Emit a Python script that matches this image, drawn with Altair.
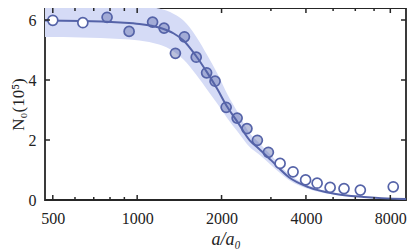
import altair as alt
import pandas as pd

# ---- data ----
pt_x = [500, 640, 781, 936, 1135, 1247, 1369, 1474, 1624, 1769, 1896, 2077,
        2273, 2464, 2684, 2938, 3235, 3598, 3989, 4385, 4880, 5469, 6254, 8195]
pt_y = [5.99, 5.91, 6.09, 5.62, 5.93, 5.73, 4.89, 5.44, 4.76, 4.24, 3.96, 3.09,
        2.73, 2.38, 1.99, 1.59, 1.22, 0.94, 0.67, 0.56, 0.42, 0.38, 0.33, 0.44]
pt_kind = ["open", "open"] + ["filled"] * 14 + ["open"] * 8

fit_x = [469, 630, 870, 1018, 1197, 1351, 1463, 1622, 1785, 1936, 2100, 2273,
         2525, 2712, 3008, 3477, 4082, 5046, 6433, 9100]
fit_y = [5.98, 5.97, 5.92, 5.87, 5.75, 5.55, 5.32, 4.80, 4.22, 3.68, 3.09, 2.62,
         1.98, 1.72, 1.32, 0.76, 0.43, 0.21, 0.10, 0.03]
band_lo = [5.43, 5.42, 5.37, 5.32, 5.18, 4.95, 4.68, 4.18, 3.65, 3.20, 2.72, 2.30,
           1.76, 1.53, 1.16, 0.67, 0.37, 0.18, 0.08, 0.02]
band_hi = [6.55, 6.54, 6.50, 6.46, 6.38, 6.20, 5.98, 5.45, 4.80, 4.20, 3.52, 2.96,
           2.22, 1.92, 1.48, 0.86, 0.49, 0.24, 0.12, 0.04]

x_major = [500, 1000, 2000, 4000, 8000]
x_minor = [600, 700, 800, 900, 3000, 5000, 6000, 7000]
y_major = [2, 4, 6]

W, H = 361, 192
LINE = "#5563a8"
FONT = "Liberation Serif"

xs = alt.Scale(type="log", domain=[469, 9100], nice=False)
ys = alt.Scale(domain=[0, 6.4], nice=False, zero=False)

pts = pd.DataFrame({"x": pt_x, "y": pt_y, "kind": pt_kind})
fit = pd.DataFrame({"x": fit_x, "y": fit_y, "lo": band_lo, "hi": band_hi})
xmaj = pd.DataFrame({"x": x_major})
xmin = pd.DataFrame({"x": x_minor})
ymaj = pd.DataFrame({"y": y_major})

band = alt.Chart(fit).mark_area(color="#d5dbf6", interpolate="monotone", clip=True).encode(
    x=alt.X("x:Q", scale=xs, axis=alt.Axis(
        values=x_major, format="d", ticks=False, domain=False, grid=False,
        labelPadding=10, title="a/a₀", titleFontStyle="italic", titleFontSize=18,
        titlePadding=4, labelFlush=False)),
    y=alt.Y("lo:Q", scale=ys, axis=alt.Axis(
        values=[0, 2, 4, 6], ticks=False, domain=False, grid=False,
        labelPadding=9, title="N₀(10⁵)", titleFontSize=17, titlePadding=1)),
    y2="hi:Q",
)

curve = alt.Chart(fit).mark_line(color=LINE, strokeWidth=2, interpolate="monotone", clip=True).encode(
    x=alt.X("x:Q", scale=xs),
    y=alt.Y("y:Q", scale=ys),
)

open_pts = alt.Chart(pts).transform_filter(alt.datum.kind == "open").mark_point(
    shape="circle", filled=False, fill="white", stroke=LINE, strokeWidth=1.7, size=100, opacity=1
).encode(
    x=alt.X("x:Q", scale=xs),
    y=alt.Y("y:Q", scale=ys),
)

filled_pts = alt.Chart(pts).transform_filter(alt.datum.kind == "filled").mark_point(
    shape="circle", filled=True, fill=LINE, fillOpacity=0.4, stroke=LINE, strokeWidth=1.7,
    size=100, strokeOpacity=1
).encode(
    x=alt.X("x:Q", scale=xs),
    y=alt.Y("y:Q", scale=ys),
)

TK = "#262626"
bot_maj = alt.Chart(xmaj).mark_rule(color=TK, strokeWidth=1.5).encode(
    x=alt.X("x:Q", scale=xs), y=alt.value(H), y2=alt.value(H - 5))
bot_min = alt.Chart(xmin).mark_rule(color=TK, strokeWidth=1.5).encode(
    x=alt.X("x:Q", scale=xs), y=alt.value(H), y2=alt.value(H - 3))
top_maj = alt.Chart(xmaj).mark_rule(color=TK, strokeWidth=1.5).encode(
    x=alt.X("x:Q", scale=xs), y=alt.value(0), y2=alt.value(5))
top_min = alt.Chart(xmin).mark_rule(color=TK, strokeWidth=1.5).encode(
    x=alt.X("x:Q", scale=xs), y=alt.value(0), y2=alt.value(3))
left_t = alt.Chart(ymaj).mark_rule(color=TK, strokeWidth=1.5).encode(
    y=alt.Y("y:Q", scale=ys), x=alt.value(0), x2=alt.value(5))
right_t = alt.Chart(ymaj).mark_rule(color=TK, strokeWidth=1.5).encode(
    y=alt.Y("y:Q", scale=ys), x=alt.value(W), x2=alt.value(W - 5))

chart = alt.layer(
    band, curve, filled_pts, open_pts,
    bot_maj, bot_min, top_maj, top_min, left_t, right_t
).properties(
    width=W, height=H,
    autosize=alt.AutoSizeParams(type="none"),
    padding={"left": 37, "top": 0, "right": 1, "bottom": 50},
).configure_view(
    stroke=TK, strokeWidth=1.8
).configure_axis(
    labelFont=FONT, titleFont=FONT, labelFontSize=16, labelColor="#222222",
    titleColor="#222222", titleFontWeight="normal"
)

chart.save("out.html", embed_options={"renderer": "svg", "actions": False})
